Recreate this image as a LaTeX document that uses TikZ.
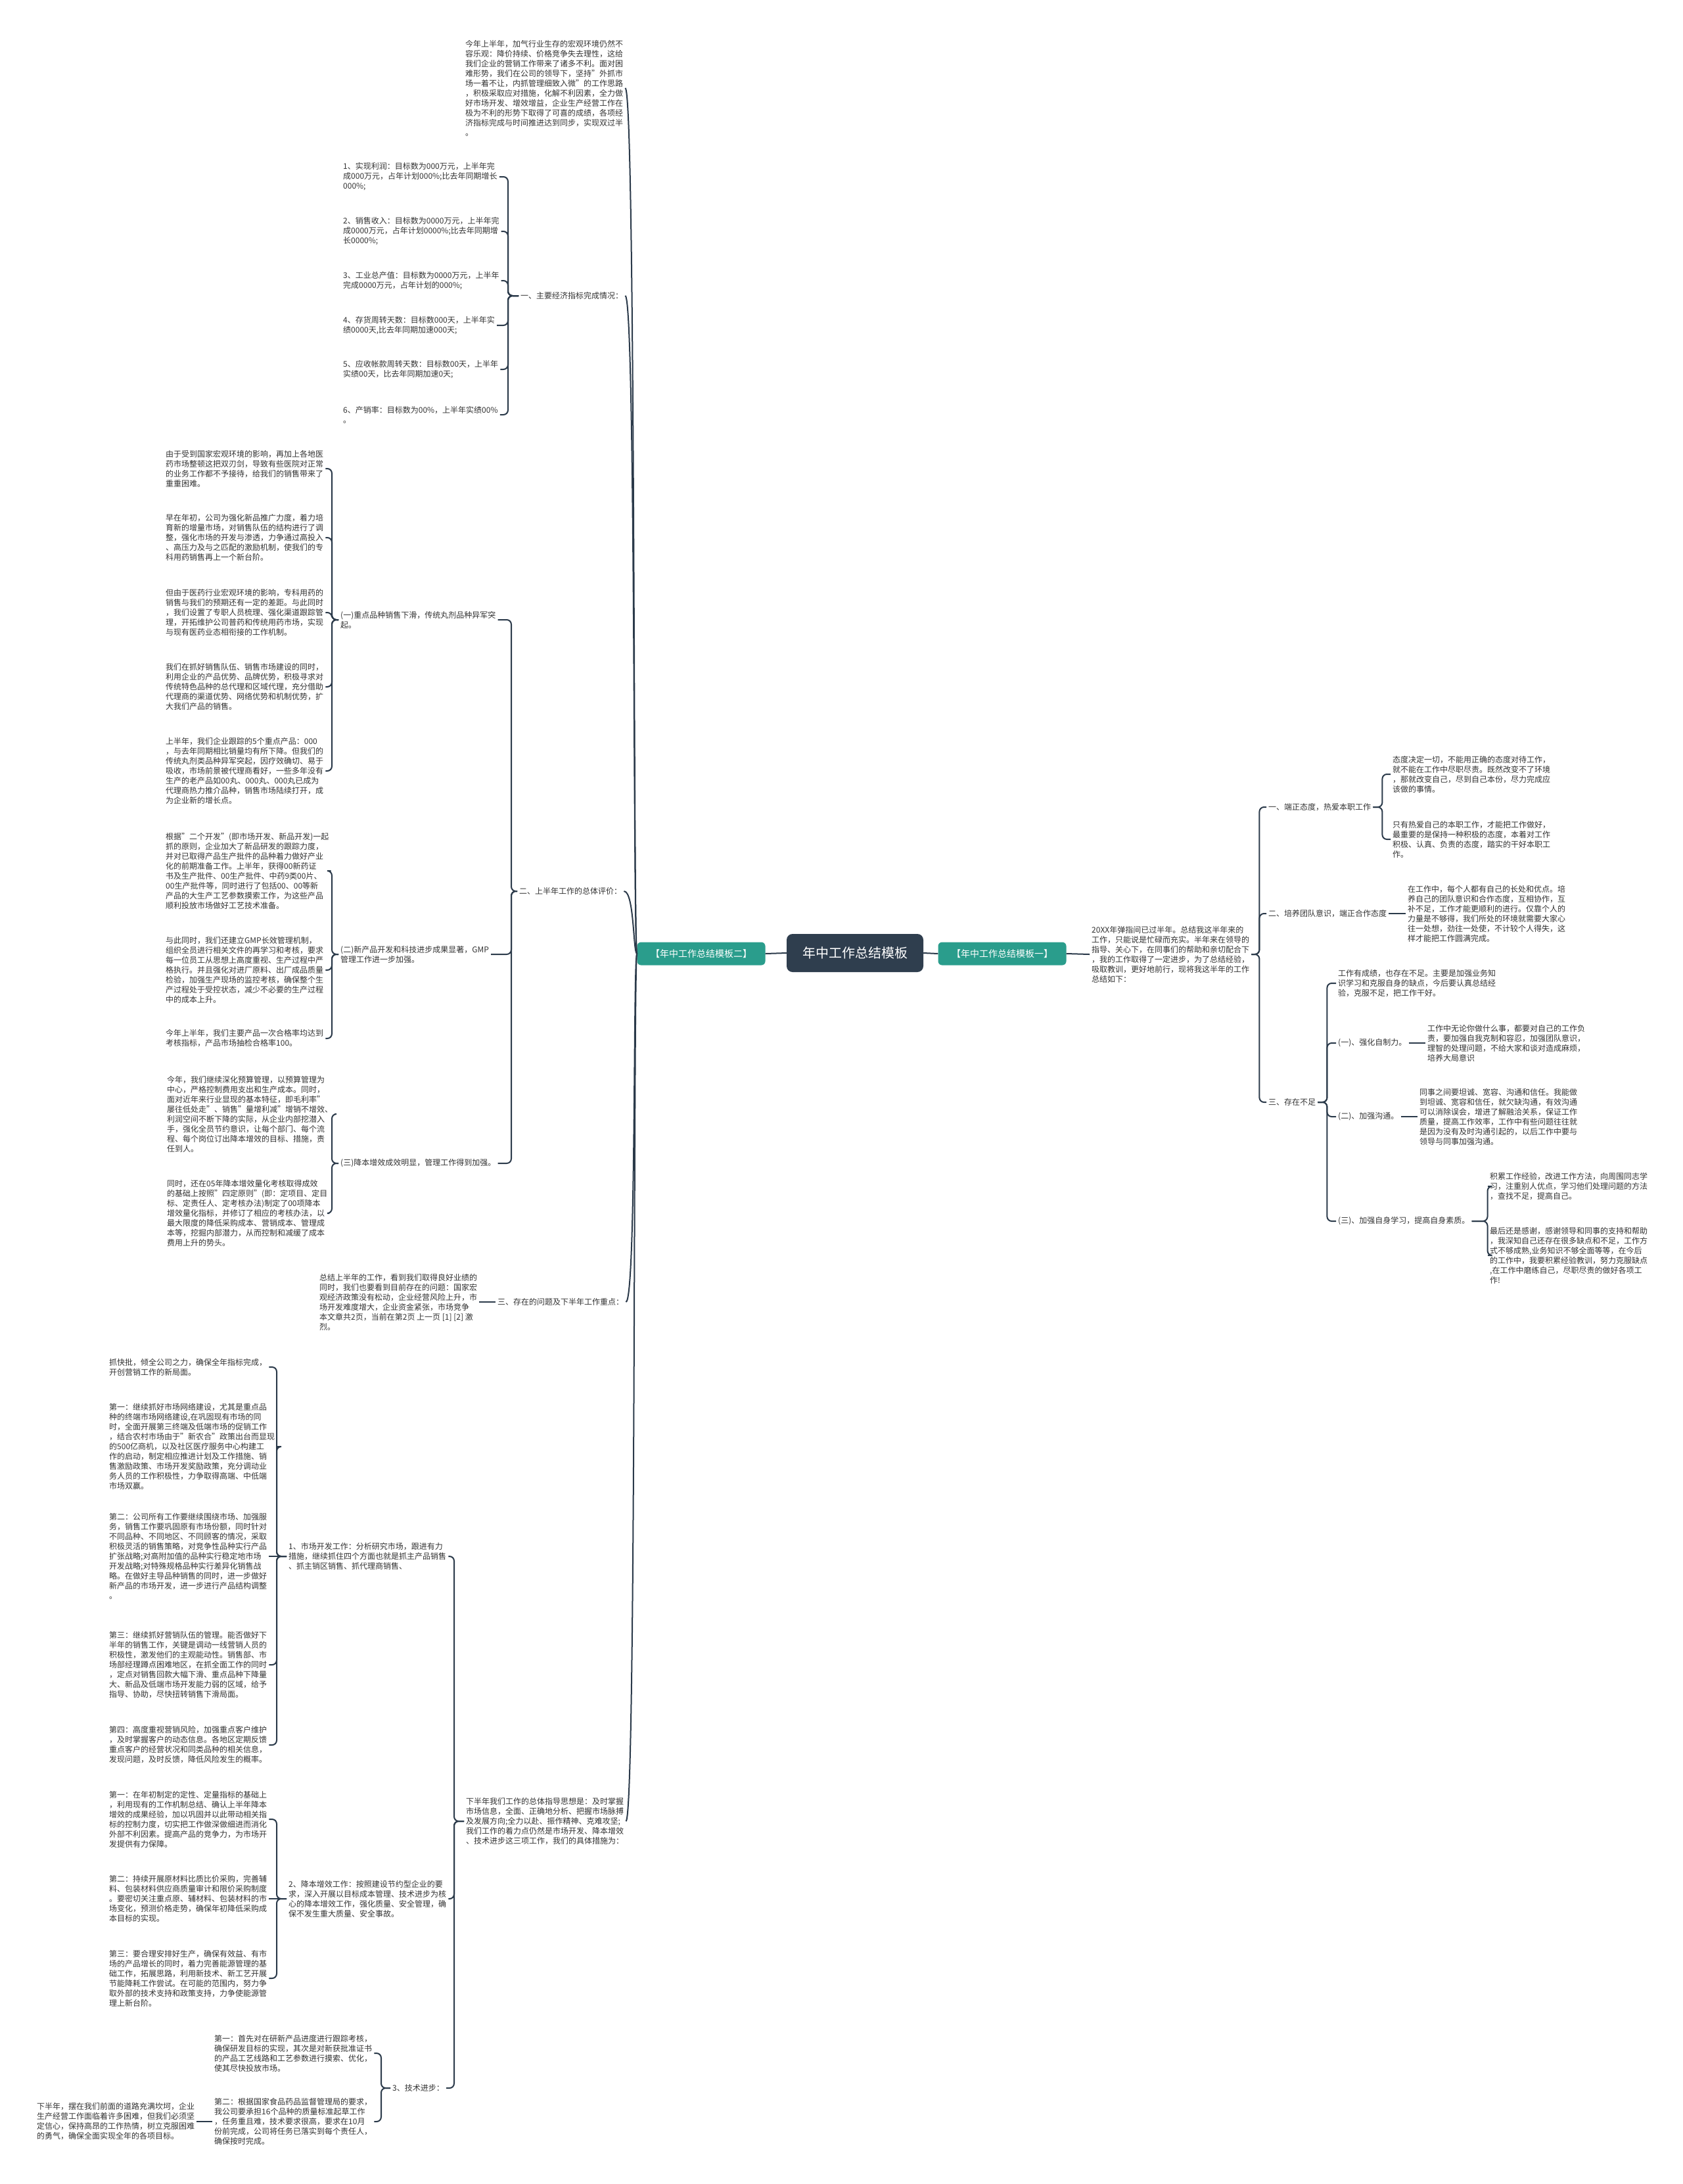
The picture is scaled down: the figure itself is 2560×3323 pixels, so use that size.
\documentclass[tikz,border=0pt]{standalone}
\usepackage{fontspec}
\setmainfont{Noto Sans CJK SC}
\definecolor{linkc}{HTML}{2B3A4A}
\definecolor{txtc}{HTML}{333333}
\definecolor{rootc}{HTML}{2F3E4E}
\definecolor{tealc}{HTML}{2A9D8C}
\tikzset{
  txtnode/.style={anchor=west,align=left,inner xsep=3pt,inner ysep=1pt,text=txtc,font=\fontsize{12pt}{15pt}\selectfont},
  link/.style={draw=linkc,line width=2pt,rounded corners=7pt},
  rootbox/.style={fill=rootc,text=white,rounded corners=9pt,minimum width=208pt,minimum height=58pt,font=\fontsize{20pt}{24pt}\selectfont},
  tplbox/.style={fill=tealc,text=white,rounded corners=6pt,minimum width=195pt,minimum height=35pt,font=\fontsize{14pt}{17pt}\selectfont}
}
\begin{document}
\begin{tikzpicture}[x=1pt,y=-1pt]
\fill[white] (0,0) rectangle (2560,3323);
\useasboundingbox (0,0) rectangle (2560,3323);

\node[rootbox] (root) at (1301,1450) {年中工作总结模板};
\node[tplbox] (tplL) at (1067,1451) {【年中工作总结模板二】};
\node[tplbox] (tplR) at (1525,1451) {【年中工作总结模板一】};

\node[txtnode] (introP) at (705,134) {今年上半年，加气行业生存的宏观环境仍然不\\容乐观：降价持续、价格竞争失去理性，这给\\我们企业的营销工作带来了诸多不利。面对困\\难形势，我们在公司的领导下，坚持"外抓市\\场一着不让，内抓管理细致入微"的工作思路\\，积极采取应对措施，化解不利因素，全力做\\好市场开发、增效增益，企业生产经营工作在\\极为不利的形势下取得了可喜的成绩，各项经\\济指标完成与时间推进达到同步，实现双过半\\。};
\node[txtnode] (sec1) at (789,450) {一、主要经济指标完成情况：};
\node[txtnode] (ind1) at (519,269) {1、实现利润：目标数为000万元，上半年完\\成000万元，占年计划000\%;比去年同期增长\\000\%;};
\node[txtnode] (ind2) at (519,352) {2、销售收入：目标数为0000万元，上半年完\\成0000万元，占年计划0000\%;比去年同期增\\长0000\%;};
\node[txtnode] (ind3) at (519,427) {3、工业总产值：目标数为0000万元，上半年\\完成0000万元，占年计划的000\%;};
\node[txtnode] (ind4) at (519,495) {4、存货周转天数：目标数000天，上半年实\\绩0000天,比去年同期加速000天;};
\node[txtnode] (ind5) at (519,562) {5、应收帐款周转天数：目标数00天，上半年\\实绩00天，比去年同期加速0天;};
\node[txtnode] (ind6) at (519,631) {6、产销率：目标数为00\%，上半年实绩00\%\\。};

\node[txtnode] (sec2) at (787,1356) {二、上半年工作的总体评价：};
\node[txtnode] (sub1) at (515,943) {(一)重点品种销售下滑，传统丸剂品种异军突\\起。};
\node[txtnode] (sub2) at (515,1452) {(二)新产品开发和科技进步成果显著，GMP\\管理工作进一步加强。};
\node[txtnode] (sub3) at (515,1770) {(三)降本增效成效明显，管理工作得到加强。};
\node[txtnode] (s1a) at (249,713) {由于受到国家宏观环境的影响，再加上各地医\\药市场整顿这把双刃剑，导致有些医院对正常\\的业务工作都不予接待，给我们的销售带来了\\重重困难。};
\node[txtnode] (s1b) at (249,818) {早在年初，公司为强化新品推广力度，着力培\\育新的增量市场，对销售队伍的结构进行了调\\整，强化市场的开发与渗透，力争通过高投入\\、高压力及与之匹配的激励机制，使我们的专\\科用药销售再上一个新台阶。};
\node[txtnode] (s1c) at (249,932) {但由于医药行业宏观环境的影响，专科用药的\\销售与我们的预期还有一定的差距。与此同时\\，我们设置了专职人员梳理、强化渠道跟踪管\\理，开拓维护公司普药和传统用药市场，实现\\与现有医药业态相衔接的工作机制。};
\node[txtnode] (s1d) at (249,1045) {我们在抓好销售队伍、销售市场建设的同时，\\利用企业的产品优势、品牌优势，积极寻求对\\传统特色品种的总代理和区域代理，充分借助\\代理商的渠道优势、网络优势和机制优势，扩\\大我们产品的销售。};
\node[txtnode] (s1e) at (249,1173) {上半年，我们企业跟踪的5个重点产品：000\\，与去年同期相比销量均有所下降。但我们的\\传统丸剂类品种异军突起，因疗效确切、易于\\吸收，市场前景被代理商看好，一些多年没有\\生产的老产品如00丸、000丸、000丸已成为\\代理商热力推介品种，销售市场陆续打开，成\\为企业新的增长点。};
\node[txtnode] (s2a) at (249,1325) {根据"二个开发"(即市场开发、新品开发)一起\\抓的原则，企业加大了新品研发的跟踪力度，\\并对已取得产品生产批件的品种着力做好产业\\化的前期准备工作。上半年，获得00新药证\\书及生产批件、00生产批件、中药9类00片、\\00生产批件等，同时进行了包括00、00等新\\产品的大生产工艺参数摸索工作，为这些产品\\顺利投放市场做好工艺技术准备。};
\node[txtnode] (s2b) at (249,1476) {与此同时，我们还建立GMP长效管理机制，\\组织全员进行相关文件的再学习和考核，要求\\每一位员工从思想上高度重视、生产过程中严\\格执行。并且强化对进厂原料、出厂成品质量\\检验，加强生产现场的监控考核，确保整个生\\产过程处于受控状态，减少不必要的生产过程\\中的成本上升。};
\node[txtnode] (s2c) at (249,1580) {今年上半年，我们主要产品一次合格率均达到\\考核指标，产品市场抽检合格率100。};
\node[txtnode] (s3a) at (251,1695) {今年，我们继续深化预算管理，以预算管理为\\中心，严格控制费用支出和生产成本。同时，\\面对近年来行业显现的基本特征，即毛利率"\\屡往低处走"、销售"量增利减"增销不增效、\\利润空间不断下降的实际，从企业内部挖潜入\\手，强化全员节约意识，让每个部门、每个流\\程、每个岗位订出降本增效的目标、措施，责\\任到人。};
\node[txtnode] (s3b) at (251,1846) {同时，还在05年降本增效量化考核取得成效\\的基础上按照"四定原则"(即：定项目、定目\\标、定责任人、定考核办法)制定了00项降本\\增效量化指标，并修订了相应的考核办法，以\\最大限度的降低采购成本、营销成本、管理成\\本等，挖掘内部潜力，从而控制和减缓了成本\\费用上升的势头。};

\node[txtnode] (sec3) at (754,1981) {三、存在的问题及下半年工作重点：};
\node[txtnode] (sumP) at (483,1981) {总结上半年的工作，看到我们取得良好业绩的\\同时，我们也要看到目前存在的问题：国家宏\\观经济政策没有松动，企业经营风险上升，市\\场开发难度增大，企业资金紧张，市场竞争\\本文章共2页，当前在第2页 上一页 [1] [2] 激\\烈。};

\node[txtnode] (plan) at (706,2771) {下半年我们工作的总体指导思想是：及时掌握\\市场信息，全面、正确地分析、把握市场脉搏\\及发展方向;全力以赴、振作精神、克难攻坚;\\我们工作的着力点仍然是市场开发、降本增效\\、技术进步这三项工作，我们的具体措施为：};
\node[txtnode] (mkt) at (436,2368) {1、市场开发工作：分析研究市场，跟进有力\\措施，继续抓住四个方面也就是抓主产品销售\\、抓主销区销售、抓代理商销售、};
\node[txtnode] (cost) at (436,2889) {2、降本增效工作：按照建设节约型企业的要\\求，深入开展以目标成本管理、技术进步为核\\心的降本增效工作，强化质量、安全管理，确\\保不发生重大质量、安全事故。};
\node[txtnode] (tech) at (594,3177) {3、技术进步：};
\node[txtnode] (m1) at (163,2080) {抓快批，倾全公司之力，确保全年指标完成，\\开创营销工作的新局面。};
\node[txtnode] (m2) at (163,2201) {第一：继续抓好市场网络建设，尤其是重点品\\种的终端市场网络建设,在巩固现有市场的同\\时，全面开展第三终端及低端市场的促销工作\\，结合农村市场由于"新农合"政策出台而显现\\的500亿商机，以及社区医疗服务中心构建工\\作的启动，制定相应推进计划及工作措施、销\\售激励政策、市场开发奖励政策，充分调动业\\务人员的工作积极性，力争取得高端、中低端\\市场双赢。};
\node[txtnode] (m3) at (163,2368) {第二：公司所有工作要继续围绕市场、加强服\\务，销售工作要巩固原有市场份额，同时针对\\不同品种、不同地区、不同顾客的情况，采取\\积极灵活的销售策略，对竞争性品种实行产品\\扩张战略;对高附加值的品种实行稳定地市场\\开发战略;对特殊规格品种实行差异化销售战\\略。在做好主导品种销售的同时，进一步做好\\新产品的市场开发，进一步进行产品结构调整\\。};
\node[txtnode] (m4) at (163,2533) {第三：继续抓好营销队伍的管理。能否做好下\\半年的销售工作，关键是调动一线营销人员的\\积极性，激发他们的主观能动性。销售部、市\\场部经理蹲点困难地区，在抓全面工作的同时\\，定点对销售回款大幅下滑、重点品种下降量\\大、新品及低端市场开发能力弱的区域，给予\\指导、协助，尽快扭转销售下滑局面。};
\node[txtnode] (m5) at (163,2655) {第四：高度重视营销风险，加强重点客户维护\\，及时掌握客户的动态信息。各地区定期反馈\\重点客户的经营状况和同类品种的相关信息，\\发现问题，及时反馈，降低风险发生的概率。};
\node[txtnode] (c1) at (163,2768) {第一：在年初制定的定性、定量指标的基础上\\，利用现有的工作机制总结、确认上半年降本\\增效的成果经验，加以巩固并以此带动相关指\\标的控制力度，切实把工作做深做细进而消化\\外部不利因素。提高产品的竞争力，为市场开\\发提供有力保障。};
\node[txtnode] (c2) at (163,2889) {第二：持续开展原材料比质比价采购，完善辅\\料、包装材料供应商质量审计和限价采购制度\\。要密切关注重点原、辅材料、包装材料的市\\场变化，预测价格走势，确保年初降低采购成\\本目标的实现。};
\node[txtnode] (c3) at (163,3010) {第三：要合理安排好生产，确保有效益、有市\\场的产品增长的同时，着力完善能源管理的基\\础工作，拓展思路，利用新技术、新工艺开展\\节能降耗工作尝试。在可能的范围内，努力争\\取外部的技术支持和政策支持，力争使能源管\\理上新台阶。};
\node[txtnode] (t1) at (323,3124) {第一：首先对在研新产品进度进行跟踪考核，\\确保研发目标的实现，其次是对新获批准证书\\的产品工艺线路和工艺参数进行摸索、优化，\\使其尽快投放市场。};
\node[txtnode] (t2) at (323,3228) {第二：根据国家食品药品监督管理局的要求，\\我公司要承担16个品种的质量标准起草工作\\，任务重且难，技术要求很高，要求在10月\\份前完成，公司将任务已落实到每个责任人，\\确保按时完成。};
\node[txtnode] (endP) at (53,3228) {下半年，摆在我们前面的道路充满坎坷，企业\\生产经营工作面临着许多困难，但我们必须坚\\定信心，保持高昂的工作热情，树立克服困难\\的勇气，确保全面实现全年的各项目标。};

\node[txtnode] (overR) at (1658,1452) {20XX年弹指间已过半年。总结我这半年来的\\工作，只能说是忙碌而充实。半年来在领导的\\指导、关心下，在同事们的帮助和亲切配合下\\，我的工作取得了一定进步，为了总结经验，\\吸取教训，更好地前行，现将我这半年的工作\\总结如下：};
\node[txtnode] (r1) at (1927,1228) {一、端正态度，热爱本职工作};
\node[txtnode] (r2) at (1927,1390) {二、培养团队意识，端正合作态度};
\node[txtnode] (r3) at (1927,1677) {三、存在不足};
\node[txtnode] (r1a) at (2116,1178) {态度决定一切，不能用正确的态度对待工作，\\就不能在工作中尽职尽责。既然改变不了环境\\，那就改变自己，尽到自己本份，尽力完成应\\该做的事情。};
\node[txtnode] (r1b) at (2116,1277) {只有热爱自己的本职工作，才能把工作做好，\\最重要的是保持一种积极的态度，本着对工作\\积极、认真、负责的态度，踏实的干好本职工\\作。};
\node[txtnode] (r2a) at (2139,1390) {在工作中，每个人都有自己的长处和优点。培\\养自己的团队意识和合作态度，互相协作，互\\补不足，工作才能更顺利的进行。仅靠个人的\\力量是不够得，我们所处的环境就需要大家心\\往一处想，劲往一处使，不计较个人得失，这\\样才能把工作圆满完成。};
\node[txtnode] (r3a) at (2033,1496) {工作有成绩，也存在不足。主要是加强业务知\\识学习和克服自身的缺点，今后要认真总结经\\验，克服不足，把工作干好。};
\node[txtnode] (r3b) at (2033,1587) {(一)、强化自制力。};
\node[txtnode] (r3ba) at (2169,1587) {工作中无论你做什么事，都要对自己的工作负\\责，要加强自我克制和容忍，加强团队意识，\\理智的处理问题，不给大家和谈对造成麻烦，\\培养大局意识};
\node[txtnode] (r3c) at (2033,1699) {(二)、加强沟通。};
\node[txtnode] (r3ca) at (2157,1699) {同事之间要坦诚、宽容、沟通和信任。我能做\\到坦诚、宽容和信任，就欠缺沟通，有效沟通\\可以消除误会，增进了解融洽关系，保证工作\\质量，提高工作效率，工作中有些问题往往就\\是因为没有及时沟通引起的，以后工作中要与\\领导与同事加强沟通。};
\node[txtnode] (r3d) at (2033,1858) {(三)、加强自身学习，提高自身素质。};
\node[txtnode] (r3da) at (2264,1805) {积累工作经验，改进工作方法，向周围同志学\\习，注重别人优点，学习他们处理问题的方法\\，查找不足，提高自己。};
\node[txtnode] (r3db) at (2264,1910) {最后还是感谢，感谢领导和同事的支持和帮助\\，我深知自己还存在很多缺点和不足，工作方\\式不够成熟,业务知识不够全面等等，在今后\\的工作中，我要积累经验教训，努力克服缺点\\,在工作中磨练自己，尽职尽责的做好各项工\\作!};

\draw[link] (root.west) -- (tplL.east);
\draw[link] (root.east) -- (tplR.west);
\draw[link] (tplR.east) -- (overR.west);
\foreach \c in {introP,sec1,sec2,sec3,plan}
  \draw[link] (tplL.west) .. controls +(-6,0) and +(16,0) .. (\c.east);
\foreach \c in {ind1,ind2,ind3,ind4,ind5,ind6}
  \draw[link] (sec1.west) -- ++(-16,0) |- (\c.east);
\foreach \c in {sub1,sub2,sub3}
  \draw[link] (sec2.west) -- ++(-9,0) |- (\c.east);
\foreach \c in {s1a,s1b,s1c,s1d,s1e}
  \draw[link] (sub1.west) -- ++(-10,0) |- (\c.east);
\foreach \c in {s2a,s2b,s2c}
  \draw[link] (sub2.west) -- ++(-10,0) |- (\c.east);
\foreach \c in {s3a,s3b}
  \draw[link] (sub3.west) -- ++(-10,0) |- (\c.east);
\draw[link] (sec3.west) -- (sumP.east);
\foreach \c in {mkt,cost,tech}
  \draw[link] (plan.west) -- ++(-15,0) |- (\c.east);
\foreach \c in {m1,m2,m4,m5}
  \draw[link] (mkt.west) -- ++(-15,0) |- (\c.east);
\draw[link] (mkt.west) -- (m3.east);
\foreach \c in {c1,c3}
  \draw[link] (cost.west) -- ++(-15,0) |- (\c.east);
\draw[link] (cost.west) -- (c2.east);
\foreach \c in {t1,t2}
  \draw[link] (tech.west) -- ++(-14,0) |- (\c.east);
\draw[link] (t2.west) -- (endP.east);

\foreach \c in {r1,r2,r3}
  \draw[link] (overR.east) -- ++(12,0) |- (\c.west);
\foreach \c in {r1a,r1b}
  \draw[link] (r1.east) -- ++(14,0) |- (\c.west);
\draw[link] (r2.east) -- (r2a.west);
\foreach \c in {r3a,r3b,r3c,r3d}
  \draw[link] (r3.east) -- ++(14,0) |- (\c.west);
\draw[link] (r3b.east) -- (r3ba.west);
\draw[link] (r3c.east) -- (r3ca.west);
\foreach \c in {r3da,r3db}
  \draw[link] (r3d.east) -- ++(24,0) |- (\c.west);
\end{tikzpicture}
\end{document}
